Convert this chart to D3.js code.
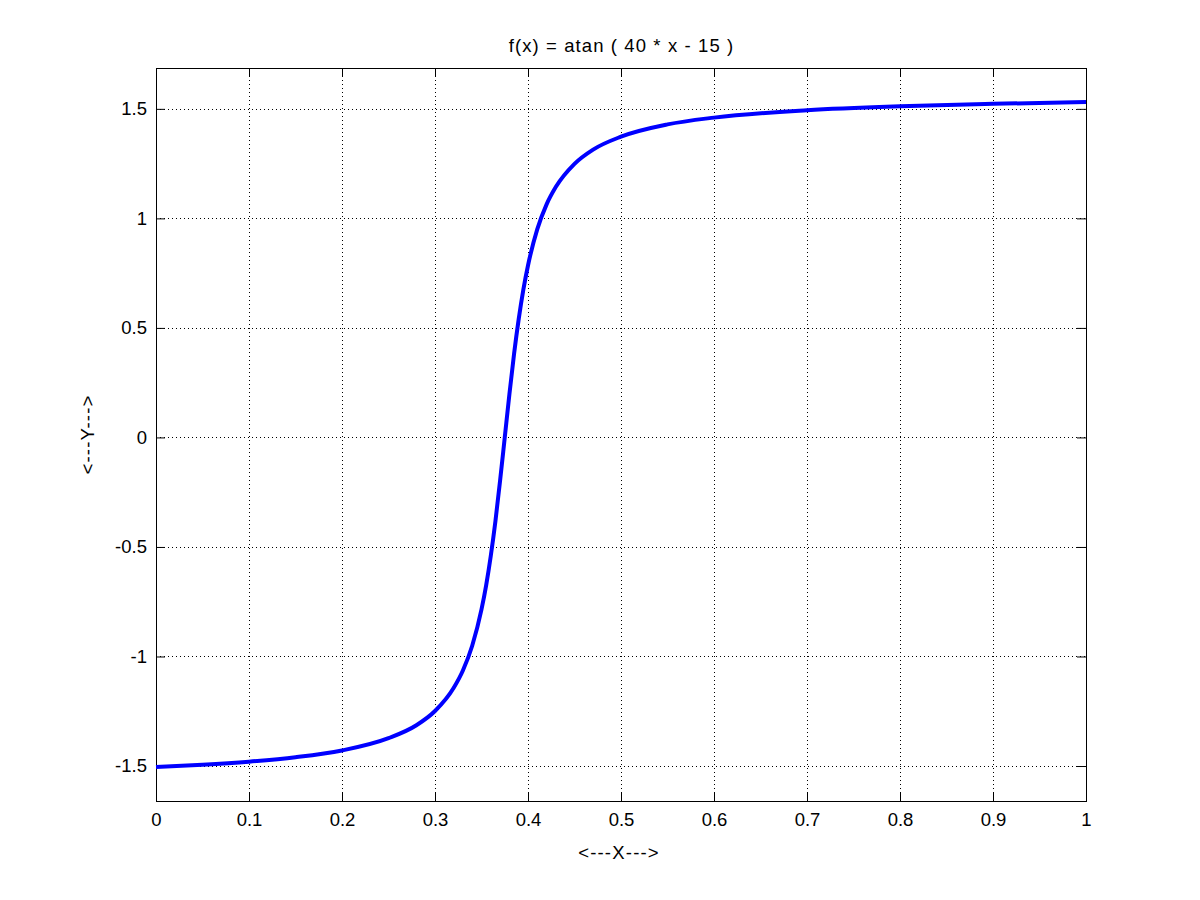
<!DOCTYPE html>
<html><head><meta charset="utf-8">
<script src="https://cdn.jsdelivr.net/npm/d3@7"></script>
<style>body{margin:0;background:#fff}svg{display:block}text{font-family:"Liberation Sans",Arial,sans-serif;fill:#000}</style>
</head><body>
<script>
const titleText = "f(x) = atan ( 40 * x - 15 )";
const xLabel = "<---X--->";
const yLabel = "<---Y--->";
const xValues = [0,0.05,0.1,0.15,0.2,0.25,0.28,0.30,0.32,0.33,0.34,0.35,0.355,0.36,0.365,0.37,0.375,0.38,0.385,0.39,0.395,0.40,0.41,0.42,0.43,0.45,0.47,0.50,0.55,0.60,0.70,0.80,0.90,1.00];
const yValues = [-1.504,-1.494,-1.480,-1.460,-1.429,-1.373,-1.314,-1.249,-1.144,-1.064,-0.951,-0.785,-0.675,-0.540,-0.381,-0.197,0,0.197,0.381,0.540,0.675,0.785,0.951,1.064,1.144,1.249,1.314,1.373,1.429,1.460,1.494,1.512,1.523,1.531];
const xTicks = [0,0.1,0.2,0.3,0.4,0.5,0.6,0.7,0.8,0.9,1];
const yTicks = [-1.5,-1,-0.5,0,0.5,1,1.5];

const W=1200,H=900;
const L=156,R=1086,T=68,B=801;
const svg=d3.select("body").append("svg").attr("width",W).attr("height",H);
const x=d3.scaleLinear().domain([0,1]).range([L,R]);
const y=d3.scaleLinear().domain([-1.6597,1.6865]).range([B,T]);
const fs=18.5;
const fmt=d=>String(d);

// grid
const g=svg.append("g").attr("stroke","#000").attr("stroke-width",1).attr("stroke-dasharray","1,3").attr("shape-rendering","crispEdges");
xTicks.slice(1,-1).forEach(t=>g.append("line").attr("x1",Math.round(x(t))+0.5).attr("x2",Math.round(x(t))+0.5).attr("y1",T).attr("y2",B));
yTicks.forEach(t=>g.append("line").attr("y1",Math.round(y(t))+0.5).attr("y2",Math.round(y(t))+0.5).attr("x1",L).attr("x2",R));

// axes with inward ticks
const tl=9;
const axB=d3.axisBottom(x).tickValues(xTicks).tickSize(-tl).tickPadding(12).tickFormat(fmt);
const axT=d3.axisTop(x).tickValues(xTicks).tickSize(-tl).tickFormat("");
const axL=d3.axisLeft(y).tickValues(yTicks).tickSize(-tl).tickPadding(9).tickFormat(fmt);
const axR=d3.axisRight(y).tickValues(yTicks).tickSize(-tl).tickFormat("");
function style(sel){sel.select(".domain").remove();sel.selectAll("line").attr("stroke","#000");sel.selectAll("text").attr("font-size",fs).attr("font-family","Liberation Sans, Arial, sans-serif").attr("fill","#000");}
svg.append("g").attr("transform",`translate(0,${B})`).call(axB).call(style);
svg.append("g").attr("transform",`translate(0,${T})`).call(axT).call(style);
svg.append("g").attr("transform",`translate(${L},0)`).call(axL).call(style);
svg.append("g").attr("transform",`translate(${R},0)`).call(axR).call(style);
svg.append("rect").attr("x",L+0.5).attr("y",T+0.5).attr("width",R-L).attr("height",B-T).attr("fill","none").attr("stroke","#000").attr("stroke-width",1);

// curve
const pts=xValues.map((v,i)=>[v,yValues[i]]);
svg.append("path").datum(pts).attr("fill","none").attr("stroke","#0000ff").attr("stroke-width",4)
  .attr("d",d3.line().x(d=>x(d[0])).y(d=>y(d[1])).curve(d3.curveMonotoneX));

// labels
svg.append("text").attr("x",(L+R)/2+0.5).attr("y",52).attr("text-anchor","middle").attr("font-size",fs).attr("letter-spacing","1.1px").text(titleText);
svg.append("text").attr("x",(L+R)/2-2).attr("y",859).attr("text-anchor","middle").attr("font-size",fs).attr("letter-spacing","1.2px").text(xLabel);
svg.append("text").attr("transform",`translate(94,${(T+B)/2}) rotate(-90)`).attr("text-anchor","middle").attr("font-size",fs).attr("letter-spacing","1.2px").text(yLabel);
</script>
</body></html>
